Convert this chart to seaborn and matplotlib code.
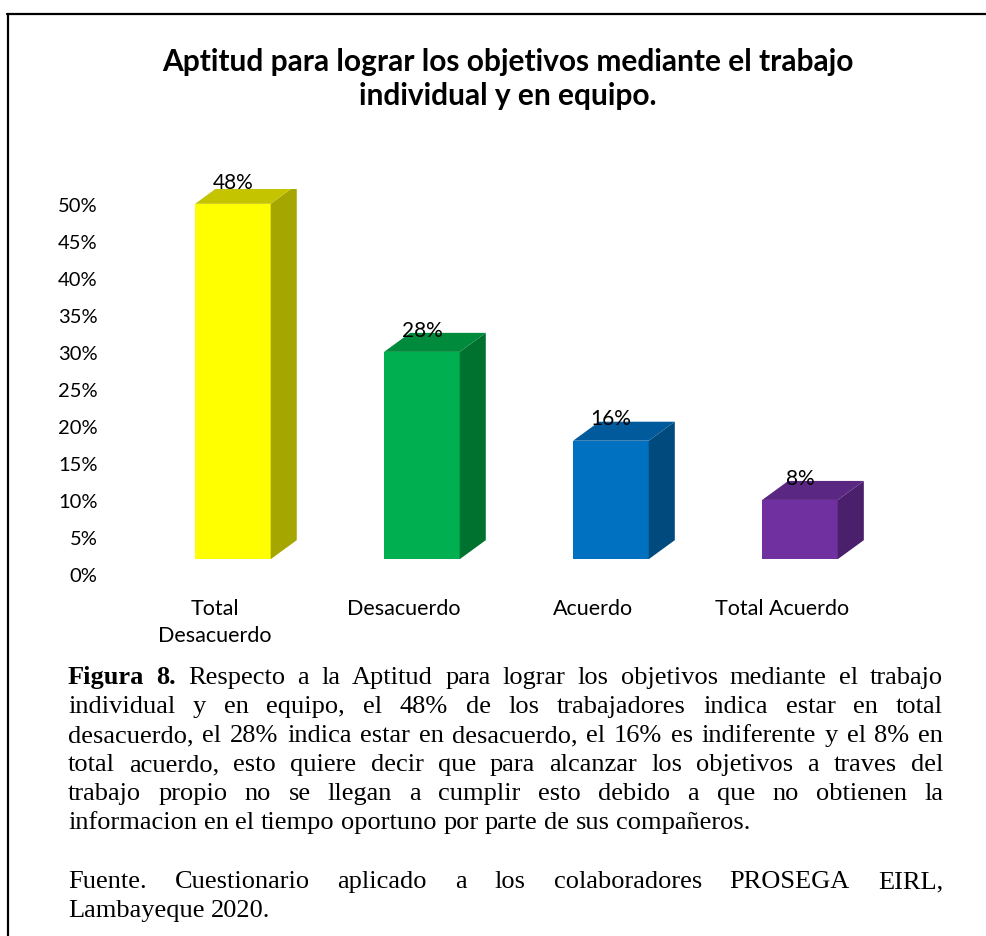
import matplotlib
matplotlib.use("Agg")
import matplotlib.pyplot as plt
from matplotlib.patches import Polygon
from matplotlib.lines import Line2D
import numpy as np
import pandas as pd
import seaborn as sns

# data
categories = ["Total\nDesacuerdo", "Desacuerdo", "Acuerdo", "Total Acuerdo"]
values = [48, 28, 16, 8]
value_labels = ["48%", "28%", "16%", "8%"]
y_ticks = [0, 5, 10, 15, 20, 25, 30, 35, 40, 45, 50]

front_colors = ["#FFFF00", "#00B050", "#0070C0", "#7030A0"]
side_colors = ["#A6A600", "#00722F", "#004A7E", "#4A1F6B"]
top_colors = ["#C4C400", "#008A3C", "#005A9B", "#5A2782"]

title = "Aptitud para lograr los objetivos mediante el trabajo\nindividual y en equipo."

caption_lines = [
    "Figura 8. Respecto a la Aptitud para lograr los objetivos mediante el trabajo",
    "individual y en equipo, el 48% de los trabajadores indica estar en total",
    "desacuerdo, el 28% indica estar en desacuerdo, el 16% es indiferente y el 8% en",
    "total acuerdo, esto quiere decir que para alcanzar los objetivos a traves del",
    "trabajo propio no se llegan a cumplir esto debido a que no obtienen la",
    "informacion en el tiempo oportuno por parte de sus compañeros.",
    "",
    "Fuente. Cuestionario aplicado a los colaboradores PROSEGA EIRL,",
    "Lambayeque 2020.",
]
justify_flags = [True, True, True, True, True, False, False, True, False]

W, H = 987, 937
sns.set_style("white")
plt.rcParams["font.family"] = ["Lato", "DejaVu Sans"]

fig = plt.figure(figsize=(W / 100, H / 100), dpi=100)
ax = fig.add_axes([110 / W, (H - 575) / H, 775 / W, 385 / H])

df = pd.DataFrame({"cat": categories, "val": values})
sns.barplot(data=df, x="cat", y="val", hue="cat", palette=front_colors,
            width=0.4, legend=False, ax=ax, saturation=1, linewidth=0)

base = 2.0    # bars sit back from the axis (3D floor)
dx, dy = 0.138, 2.57
for i, p in enumerate(ax.patches):
    p.set_y(base)
    x0, x1 = p.get_x(), p.get_x() + p.get_width()
    top = base + p.get_height()
    ax.add_patch(Polygon([(x1, base), (x1 + dx, base + dy), (x1 + dx, top + dy), (x1, top)],
                         closed=True, facecolor=side_colors[i], edgecolor="none"))
    ax.add_patch(Polygon([(x0, top), (x0 + dx, top + dy), (x1 + dx, top + dy), (x1, top)],
                         closed=True, facecolor=top_colors[i], edgecolor="none"))
    ax.text((x0 + x1) / 2, top + 2.2, value_labels[i], ha="center", va="baseline",
            fontsize=15, color="#000000", clip_on=False)

ax.set_xlim(-0.65, 3.45)
ax.set_ylim(0, 52)
ax.set_yticks(y_ticks, [f"{v}%" for v in y_ticks])
ax.set_xticks(np.arange(len(categories)) - 0.095, categories)
ax.tick_params(axis="y", length=0, pad=9, labelsize=14.5, labelcolor="#000000")
ax.tick_params(axis="x", length=0, pad=17, labelsize=15.5, labelcolor="#000000")
for lab in ax.get_xticklabels():
    lab.set_multialignment("center")
    lab.set_linespacing(1.45)
ax.set_xlabel("")
ax.set_ylabel("")
sns.despine(ax=ax, left=True, bottom=True)
ax.patch.set_alpha(0)

fig.text(508 / W, 1 - 79 / H, title, ha="center", va="center", fontsize=21.5,
         fontweight="bold", linespacing=1.3, color="#000000")

# frame
fig.add_artist(Line2D([7 / W, 1], [1 - 15 / H, 1 - 15 / H], color="black", lw=1.6,
                      transform=fig.transFigure))
fig.add_artist(Line2D([8 / W, 8 / W], [0, 1 - 15 / H], color="black", lw=1.6,
                      transform=fig.transFigure))

# caption, justified like the source document
renderer = fig.canvas.get_renderer()
x_left, x_right = 68, 943
baselines = [684 + 29 * k for k in range(6)] + [0, 888, 917]
serif = ["Liberation Serif", "DejaVu Serif"]
fs = 19
for line, just, yb in zip(caption_lines, justify_flags, baselines):
    if not line:
        continue
    words = line.split(" ")
    texts = []
    for j, w in enumerate(words):
        bold = line.startswith("Figura") and j < 2
        texts.append(fig.text(0, 1 - yb / H, w, ha="left", va="baseline", fontsize=fs,
                              family=serif, fontweight="bold" if bold else "normal",
                              color="#000000"))
    widths = [t.get_window_extent(renderer).width for t in texts]
    if just and len(words) > 1:
        gap = (x_right - x_left - sum(widths)) / (len(words) - 1)
    else:
        gap = fs * 100 / 72 * 0.25
    x = x_left
    for t, w in zip(texts, widths):
        t.set_x(x / W)
        x += w + gap

fig.savefig("out.png", dpi=100)
